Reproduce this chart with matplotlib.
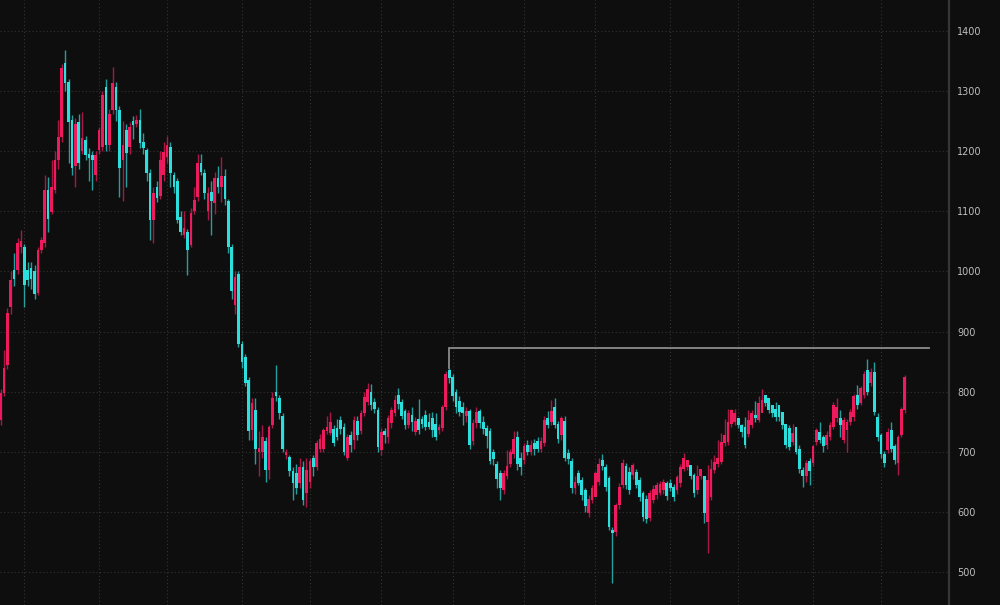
import matplotlib
matplotlib.use("Agg")
import matplotlib.pyplot as plt

# ---- data ----
opens = [753,798,844,941,1002,1002,1040,1040,1002,1005,1000,964,1035,1047,1135,1099,1135,1185,1224,1346,
         1315,1252,1175,1249,1200,1219,1196,1194,1160,1202,1207,1307,1210,1268,1307,1268,1185,1235,1207,1250,
         1245,1252,1216,1202,1164,1086,1141,1125,1160,1190,1207,1160,1150,1091,1060,1066,1044,1100,1124,1180,
         1164,1100,1132,1114,1155,1140,1158,1118,1040,945,995,880,858,819,736,770,700,700,718,670,
         745,800,790,760,695,692,668,665,648,675,632,650,690,675,705,705,735,731,738,740,
         753,742,690,728,720,752,735,764,783,800,782,770,703,735,725,748,765,795,782,768,
         745,762,733,755,755,761,750,756,747,736,740,775,836,825,800,785,775,760,768,718,
         748,768,750,740,735,700,680,665,637,660,680,697,725,690,686,712,700,715,718,705,
         714,757,750,775,747,728,752,698,685,640,664,653,636,598,620,625,650,686,675,656,
         570,567,611,645,676,667,662,667,653,631,622,590,620,628,632,636,648,648,642,636,
         648,672,675,678,661,636,659,659,584,625,670,680,683,714,717,747,750,757,745,742,
         730,744,762,753,764,794,789,778,772,778,767,747,739,717,742,705,670,659,684,681,
         717,733,725,712,725,742,756,757,720,736,750,758,794,781,794,836,814,833,758,728,
         697,703,736,709,681,728,770]
closes = [798,840,931,986,988,1047,1050,977,986,988,962,1035,1052,1135,1087,1141,1185,1224,1338,1313,
          1249,1172,1245,1180,1222,1194,1188,1185,1194,1235,1294,1210,1262,1313,1268,1172,1210,1197,1240,1243,
          1252,1214,1205,1164,1086,1131,1122,1185,1199,1210,1164,1140,1086,1066,1072,1036,1097,1119,1180,1166,
          1131,1130,1118,1155,1140,1158,1120,1041,968,990,880,850,815,735,781,705,706,725,670,741,
          790,792,765,705,700,668,648,640,675,620,670,685,675,715,722,736,742,750,715,725,
          738,700,725,712,753,728,764,791,805,778,772,708,733,728,756,770,786,780,760,745,
          764,750,752,737,747,742,742,737,725,742,775,830,822,792,775,767,764,768,712,748,
          767,748,738,726,685,688,655,640,664,676,700,722,680,675,710,700,712,705,705,718,
          753,745,768,745,722,756,690,688,640,650,648,628,609,622,639,664,680,676,642,575,
          565,611,642,681,645,636,678,645,625,592,588,631,638,645,646,650,626,640,625,658,
          675,690,686,659,631,659,672,598,653,672,683,690,717,728,750,770,765,745,733,711,
          753,764,756,781,786,781,769,764,758,758,744,711,708,731,700,672,659,681,668,709,
          736,720,709,728,745,778,775,745,753,750,767,792,778,806,830,800,833,767,725,697,
          681,733,705,686,725,772,825]
highs = [805,870,940,1000,1030,1055,1069,1045,1015,1015,1010,1040,1058,1160,1157,1185,1200,1252,1345,1368,
         1320,1260,1255,1262,1265,1225,1205,1200,1200,1240,1300,1320,1270,1340,1315,1275,1250,1245,1248,1258,
         1260,1270,1230,1205,1170,1140,1150,1200,1215,1225,1215,1165,1155,1100,1100,1070,1105,1140,1195,1195,
         1170,1140,1150,1165,1175,1190,1170,1120,1045,1000,1000,885,862,825,790,790,735,745,725,745,
         800,845,795,765,705,695,675,680,690,685,690,690,695,720,730,740,760,767,745,755,
         760,748,730,735,760,760,770,800,814,812,790,775,740,740,762,775,795,806,788,772,
         770,775,758,787,760,770,764,766,764,746,778,834,840,830,805,792,782,775,772,755,
         775,772,760,745,740,705,685,670,670,703,705,735,735,700,715,720,720,722,725,725,
         760,768,786,789,752,760,760,705,690,660,670,658,640,628,645,668,690,697,680,660,
         575,615,648,688,682,675,682,672,658,635,628,636,645,650,652,655,652,654,646,662,
         680,698,681,665,664,678,662,660,678,688,695,720,732,755,772,772,772,750,746,758,
         770,770,785,792,804,792,782,776,782,772,752,744,745,746,722,712,675,686,690,712,
         740,750,728,735,750,782,789,770,758,755,772,796,811,810,834,854,840,850,765,732,
         702,740,750,713,728,775,828]
lows = [745,792,838,930,975,995,1030,941,975,970,955,960,1030,1040,1066,1095,1130,1170,1215,1300,
        1180,1160,1140,1170,1195,1185,1150,1135,1150,1195,1200,1200,1200,1262,1250,1124,1117,1140,1195,1220,
        1240,1205,1195,1150,1053,1047,1115,1120,1150,1180,1140,1130,1080,1060,1055,994,1040,1095,1118,1160,
        1120,1085,1060,1095,1130,1115,1110,1030,955,930,875,840,810,720,720,680,660,690,650,655,
        740,785,755,700,688,660,620,630,640,612,608,640,660,670,700,700,730,728,710,720,
        730,695,686,700,705,720,730,760,778,770,765,700,695,715,715,740,760,772,755,738,
        740,735,728,730,740,736,738,725,720,730,735,770,815,785,765,760,745,750,705,712,
        740,740,730,706,680,678,640,620,630,655,675,690,670,661,680,695,695,695,700,700,
        710,740,745,740,715,720,685,680,632,630,645,620,600,592,615,635,645,670,635,570,
        481,560,605,640,638,630,655,640,618,585,582,585,615,622,628,630,620,635,618,630,
        642,668,670,655,625,630,655,581,531,620,665,675,680,710,712,742,745,740,725,706,
        725,740,750,750,776,776,765,758,752,752,738,706,703,712,696,665,642,650,645,676,
        712,714,700,705,720,738,750,725,715,700,745,752,772,778,790,794,810,762,718,690,
        675,698,700,680,661,724,765]

y_ticks = [500, 600, 700, 800, 900, 1000, 1100, 1200, 1300, 1400]
month_starts = [7, 29, 49, 71, 91, 112, 133, 154, 175, 197, 217, 239, 259]
level_price = 873
level_start = 132
level_end = 273

# ---- style ----
BG = "#0e0e0e"
UP = "#ee1a5e"
DOWN = "#2cdfdc"
GRID = "#333333"

fig = plt.figure(figsize=(10, 6.05), dpi=100, facecolor=BG)
ax = fig.add_axes([0, 0, 0.949, 1.0])
ax.set_facecolor(BG)

n = len(closes)
xs = list(range(n))
cols = [UP if c >= o else DOWN for o, c in zip(opens, closes)]
bottoms = [min(o, c) for o, c in zip(opens, closes)]
heights = [max(abs(c - o), 1.5) for o, c in zip(opens, closes)]

ax.vlines(xs, lows, highs, colors=cols, linewidth=1.0, alpha=0.7, zorder=3)
ax.bar(xs, heights, bottom=bottoms, width=0.8, color=cols, linewidth=0, zorder=4)

# level marker line
ax.plot([level_start, level_start, level_end],
        [highs[level_start], level_price, level_price],
        color="#8c8c8c", linewidth=1.3, zorder=5, solid_joinstyle="miter")

ax.set_xlim(-0.15, 279.0)
ax.set_ylim(445.1, 1451.6)

ax.set_yticks(y_ticks)
ax.set_yticklabels([str(v) for v in y_ticks])
ax.set_xticks(month_starts)
ax.yaxis.tick_right()
ax.tick_params(axis="y", length=0, pad=6, labelsize=7, labelcolor="#bdbdbd")
ax.tick_params(axis="x", length=0, labelbottom=False)

ax.grid(True, which="major", color=GRID, linestyle=(0, (1, 2.2)), linewidth=0.8, zorder=0)

for s in ("top", "left", "bottom"):
    ax.spines[s].set_visible(False)
ax.spines["right"].set_color("#363636")
ax.spines["right"].set_linewidth(1.6)

fig.savefig("out.png", dpi=100, facecolor=BG)
